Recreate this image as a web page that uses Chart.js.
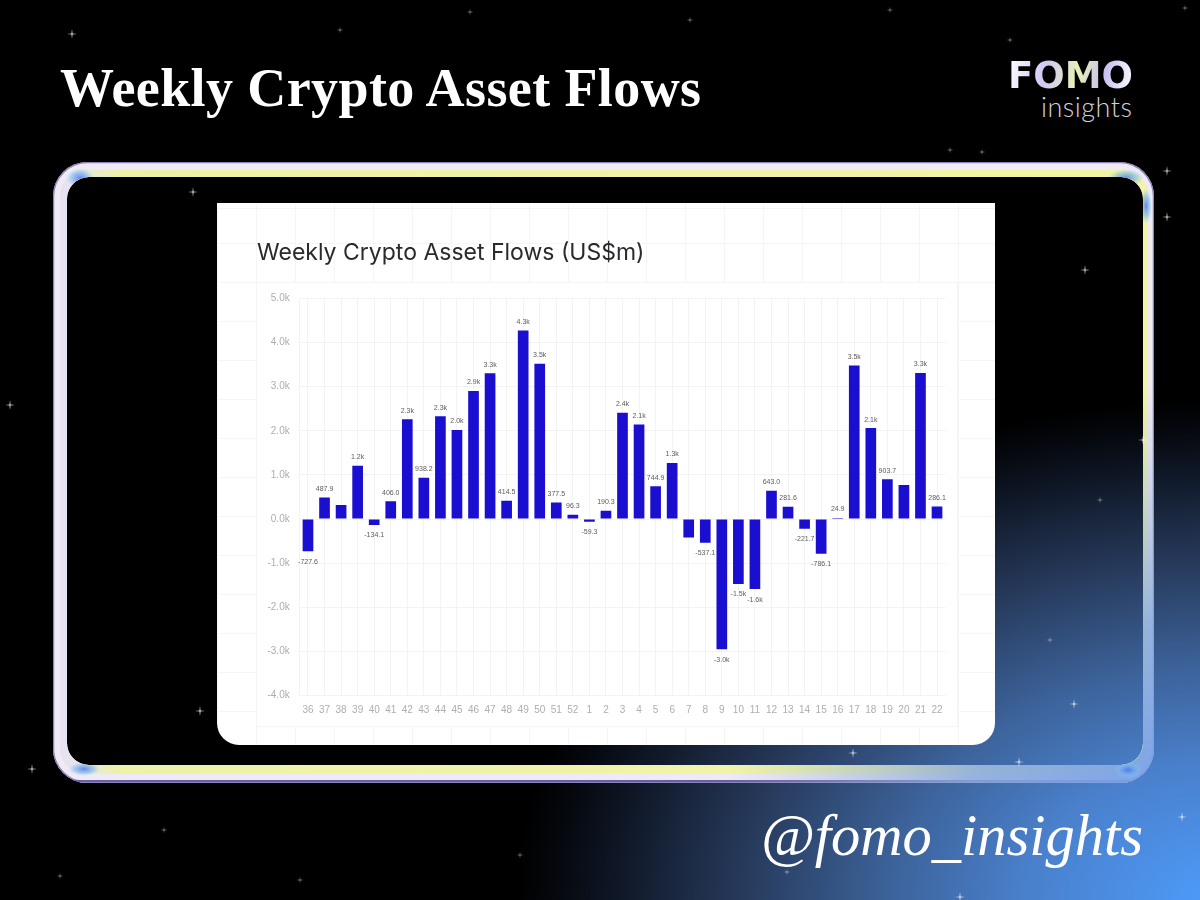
<!DOCTYPE html>
<html><head><meta charset="utf-8">
<style>
html,body{margin:0;padding:0;background:#000;width:1200px;height:900px;overflow:hidden}
#stage{position:relative;width:1200px;height:900px;overflow:hidden;background:
 radial-gradient(ellipse 700px 500px at 1215px 900px,#4d9bfa 0%,#4a80cc 27%,#3c6299 47%,#26395a 68%,#111a2b 84%,#05080e 94%,rgba(0,0,0,0) 100%),#000}
#heading{position:absolute;left:60px;top:57px;color:#fff;font:bold 54px "Liberation Serif",serif;white-space:nowrap;letter-spacing:.4px}
#handle{position:absolute;left:761px;top:802px;color:#fff;font:italic 58.5px "Liberation Serif",serif;white-space:nowrap}
#fomo{position:absolute;left:1008px;top:54px;font:bold 37px "DejaVu Sans",sans-serif;white-space:nowrap;
 background:linear-gradient(100deg,#fff,#cfc8f5 30%,#e9f0b8 55%,#c7bff2 75%,#fff);-webkit-background-clip:text;background-clip:text;color:transparent;transform-origin:left top;transform:scaleX(1)}
#ins{position:absolute;left:1041px;top:90px;font:300 27px "Lato",sans-serif;color:#d0d0d8;white-space:nowrap;letter-spacing:.5px}
#frame{position:absolute;left:0;top:0}
#card{position:absolute;left:217px;top:203px;width:778px;height:542px;border-radius:0 0 22px 22px;background-color:#fff;overflow:hidden;
 background-image:repeating-linear-gradient(90deg,#f5f5f7 0 1px,transparent 1px 39px),repeating-linear-gradient(180deg,#f5f5f7 0 1px,transparent 1px 39px);background-position:0 0,0 40px}
#panel{position:absolute;left:39px;top:79px;width:702px;height:445px;background:#fff;box-sizing:border-box;border:1px solid #f5f5f7}
#cv{position:absolute;left:217px;top:203px;width:778px;height:542px}
.s{position:absolute;background:#fff;transform:translate(-50%,-50%);clip-path:polygon(50% 0,56% 44%,100% 50%,56% 56%,50% 100%,44% 56%,0 50%,44% 44%)}
</style></head><body>
<div id="stage">
 <div id="heading">Weekly Crypto Asset Flows</div>
 <div id="fomo">FOMO</div><div id="ins">insights</div>
 <svg id="frame" width="1200" height="900" viewBox="0 0 1200 900">
  <defs>
   <linearGradient id="yel" gradientUnits="userSpaceOnUse" x1="53" y1="0" x2="1154" y2="0">
    <stop offset="0" stop-color="#e4dff0"/><stop offset=".02" stop-color="#e8e4ee"/><stop offset=".06" stop-color="#eef2a8"/><stop offset="1" stop-color="#f3f5a6"/>
   </linearGradient>
   <radialGradient id="fade" gradientUnits="userSpaceOnUse" cx="1200" cy="860" r="480">
    <stop offset="0" stop-color="#6d9cf0" stop-opacity="1"/><stop offset=".5" stop-color="#86a8dc" stop-opacity=".85"/><stop offset="1" stop-color="#9ab0d0" stop-opacity="0"/>
   </radialGradient>
   <radialGradient id="blue"><stop offset="0" stop-color="#4a6cf0" stop-opacity=".8"/><stop offset=".6" stop-color="#6fb4f0" stop-opacity=".55"/><stop offset="1" stop-color="#8fd0f0" stop-opacity="0"/></radialGradient>
   <clipPath id="band"><path clip-rule="evenodd" d="M87 162H1120a34 34 0 0 1 34 34V749a34 34 0 0 1-34 34H87a34 34 0 0 1-34-34V196a34 34 0 0 1 34-34ZM89 177a22 22 0 0 0-22 22V743a22 22 0 0 0 22 22H1121a22 22 0 0 0 22-22V199a22 22 0 0 0-22-22Z"/></clipPath>
  </defs>
  <g clip-path="url(#band)">
   <rect x="50" y="160" width="1110" height="626" fill="#efeaf6"/>
   <rect x="60" y="170" width="1088" height="604" rx="26" fill="url(#yel)"/>
   <rect x="53.5" y="162.5" width="1100" height="620" rx="34" fill="none" stroke="#8d84b6" stroke-width="1.5"/>
   <path d="M54 772Q58 781 80 781H1130" fill="none" stroke="#6a5fa6" stroke-width="2"/>
   <rect x="50" y="160" width="1110" height="626" fill="url(#fade)"/>
   <ellipse cx="80" cy="178" rx="14" ry="10" fill="url(#blue)"/>
   <ellipse cx="84" cy="769" rx="16" ry="7" fill="url(#blue)"/>
   <ellipse cx="1126" cy="178" rx="18" ry="9" fill="url(#blue)"/>
   <ellipse cx="1146" cy="206" rx="6" ry="18" fill="url(#blue)"/>
   <ellipse cx="1128" cy="770" rx="14" ry="8" fill="url(#blue)"/>
  </g>
 </svg>
 <div id="card"><div id="panel"></div></div>
 <div id="cv"><canvas id="c" width="778" height="542"></canvas></div>
 <div id="handle">@fomo_insights</div>
</div>
<script src="https://cdn.jsdelivr.net/npm/chart.js@4"></script>
<script>
const chartTitle = "Weekly Crypto Asset Flows (US$m)";
const weeks = ["36","37","38","39","40","41","42","43","44","45","46","47","48","49","50","51","52","1","2","3","4","5","6","7","8","9","10","11","12","13","14","15","16","17","18","19","20","21","22"];
const flows = [-727.6,487.9,317,1210,-134.1,406,2260,938.2,2330,2020,2900,3300,414.5,4270,3520,377.5,96.3,-59.3,190.3,2410,2140,744.9,1270,-420,-537.1,-2950,-1470,-1585,643,281.6,-221.7,-786.1,24.9,3480,2060,903.7,770,3310,286.1];
const flowLabels = ["-727.6","487.9","","1.2k","-134.1","406.0","2.3k","938.2","2.3k","2.0k","2.9k","3.3k","414.5","4.3k","3.5k","377.5","96.3","-59.3","190.3","2.4k","2.1k","744.9","1.3k","","-537.1","-3.0k","-1.5k","-1.6k","643.0","281.6","-221.7","-786.1","24.9","3.5k","2.1k","903.7","","3.3k","286.1"];
const brightStars = [[72,34],[1167,171],[1167,217],[1085,270],[200,711],[32,769],[853,753],[1019,762],[1074,704],[1182,817],[960,897],[10,405],[1143,440],[193,192]];
const dimStars = [[982,152],[164,830],[60,876],[340,30],[470,12],[690,20],[890,10],[1010,40],[1185,8],[950,150],[1100,500],[787,872],[300,880],[520,855],[1050,640]];
const stage = document.getElementById('stage');
function addStar(p,size,op){const e=document.createElement('div');e.className='s';e.style.cssText='left:'+p[0]+'px;top:'+p[1]+'px;width:'+size+'px;height:'+size+'px;opacity:'+op;stage.appendChild(e);}
brightStars.forEach(p=>addStar(p,10,.8));
dimStars.forEach(p=>addStar(p,7,.5));

const barLabels = {
  id:'barLabels',
  afterDatasetsDraw(chart){
    const {ctx} = chart, meta = chart.getDatasetMeta(0);
    ctx.save();
    ctx.font = '7px "Liberation Sans", sans-serif';
    ctx.fillStyle = '#5c5c5c';
    ctx.textAlign = 'center';
    meta.data.forEach((bar,i)=>{
      if(!flowLabels[i]) return;
      const neg = flows[i] < 0;
      ctx.textBaseline = neg ? 'top' : 'bottom';
      ctx.fillText(flowLabels[i], bar.x, bar.y + (neg ? 7 : -5));
    });
    ctx.restore();
  }
};
new Chart(document.getElementById('c'),{
  type:'bar',
  data:{labels:weeks,datasets:[{data:flows,backgroundColor:'#1a0fd0',borderWidth:0,categoryPercentage:1,barPercentage:.645}]},
  plugins:[barLabels],
  options:{
    responsive:false,animation:false,devicePixelRatio:1,
    layout:{padding:{left:40,right:49.7,top:0,bottom:0}},
    plugins:{legend:{display:false},tooltip:{enabled:false},
      title:{display:true,text:chartTitle,align:'start',color:'#2a2a2e',font:{family:'Inter, "Liberation Sans", sans-serif',size:23,weight:'400',lineHeight:1.2},padding:{top:36,bottom:31.7}}},
    scales:{
      x:{afterFit(a){a.height=49.3;},grid:{color:'#f3f3f5',offset:false,drawTicks:false},border:{color:'#f3f3f5'},
         ticks:{color:'#aeaeae',font:{family:'"Liberation Sans", sans-serif',size:10},maxRotation:0,autoSkip:false,padding:9}},
      y:{afterFit(a){a.width=42.7;},min:-4000,max:5000,afterBuildTicks(a){a.ticks=[5,4,3,2,1,0,-1,-2,-3,-4].map(k=>({value:k*1000}));},
         grid:{color:'#f3f3f5',drawTicks:false},border:{color:'#f3f3f5'},
         ticks:{color:'#aeaeae',font:{family:'"Liberation Sans", sans-serif',size:10},padding:10,callback:v=>(v/1000).toFixed(1)+'k'}}
    }
  }
});
</script>
</body></html>
